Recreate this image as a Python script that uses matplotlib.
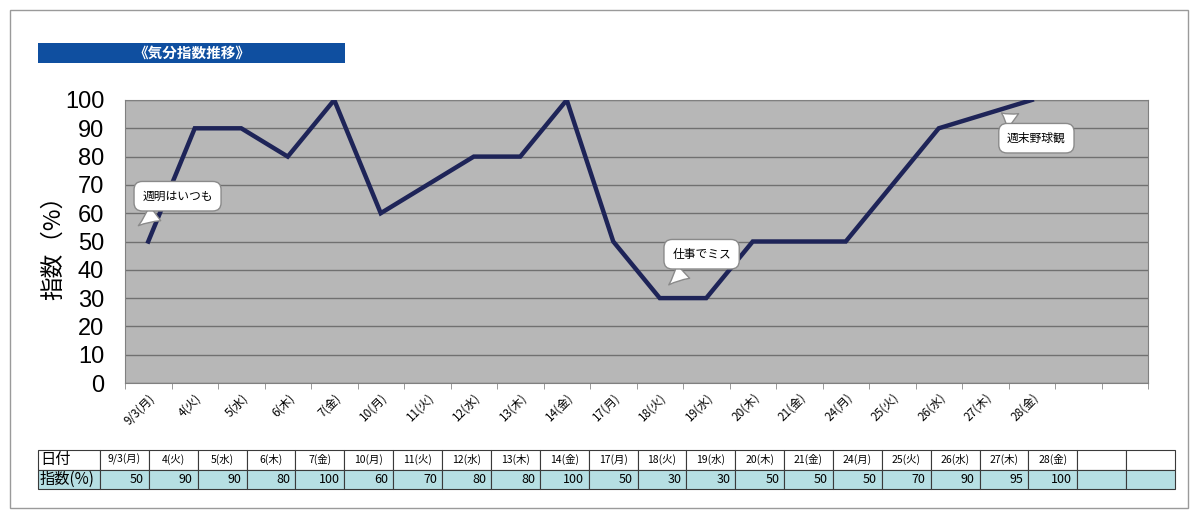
import matplotlib.pyplot as plt
from matplotlib.patches import Rectangle

plt.rcParams['font.family'] = ['Noto Sans CJK JP', 'DejaVu Sans']

# 日付と気分指数
dates = ['9/3(月)', '4(火)', '5(水)', '6(木)', '7(金)', '10(月)', '11(火)', '12(水)', '13(木)', '14(金)',
         '17(月)', '18(火)', '19(水)', '20(木)', '21(金)', '24(月)', '25(火)', '26(水)', '27(木)', '28(金)']
values = [50, 90, 90, 80, 100, 60, 70, 80, 80, 100,
          50, 30, 30, 50, 50, 50, 70, 90, 95, 100]
n_slots = 22  # 表の空欄2列分も含める

notes = [('週明はいつも', 0.63, 66, -0.26, 55),
         ('仕事でミス', 11.9, 45.5, 11.15, 34),
         ('週末野球観', 19.1, 86.5, 18.3, 96)]

W, H = 1198, 517
fig = plt.figure(figsize=(W / 100, H / 100), dpi=100)

def px(x0, y0, x1, y1):
    return [x0 / W, 1 - y1 / H, (x1 - x0) / W, (y1 - y0) / H]

# 外枠
fig.patches.append(Rectangle((10 / W, 1 - 508 / H), 1178 / W, 498 / H, transform=fig.transFigure,
                             fill=False, ec='#9a9a9a', lw=1))

# タイトル帯
tb = fig.add_axes(px(38, 43, 345, 63))
tb.set_facecolor('#0f4fa0')
tb.set_xticks([]); tb.set_yticks([])
for s in tb.spines.values():
    s.set_visible(False)
tb.text(0.5, 0.5, '《気分指数推移》', color='white', fontsize=10.5, fontweight='bold',
        ha='center', va='center', transform=tb.transAxes)

# グラフ本体
ax = fig.add_axes(px(125, 100, 1148, 383))
ax.set_facecolor('#b7b7b7')
x = list(range(len(values)))
ax.plot(x, values, color='#1e2458', lw=3.2, solid_joinstyle='miter', zorder=3)
ax.set_xlim(-0.5, n_slots - 0.5)
ax.set_ylim(0, 100)
ax.set_yticks(range(0, 101, 10))
ax.yaxis.grid(True, color='#707070', lw=1)
ax.set_axisbelow(True)
ax.tick_params(axis='y', length=0, labelsize=16, pad=15)
for lab in ax.get_yticklabels():
    lab.set_family(['Liberation Sans', 'DejaVu Sans'])
    lab.set_fontsize(17)
ax.set_xticks(x)
ax.set_xticklabels(dates, rotation=45, ha='right', rotation_mode='anchor', fontsize=8.5)
ax.set_xticks([i - 0.5 for i in range(n_slots + 1)], minor=True)
ax.tick_params(axis='x', which='major', length=0, pad=6)
ax.tick_params(axis='x', which='minor', length=4, color='#888888')
for s in ax.spines.values():
    s.set_color('#808080')
ax.set_ylabel('指数（%）', fontsize=17, labelpad=0)

for txt, tx, ty, ax_, ay_ in notes:
    ax.annotate(txt, xy=(ax_, ay_), xytext=(tx, ty), fontsize=8.5, ha='center', va='center', zorder=5,
                bbox=dict(boxstyle='round,pad=0.7', fc='white', ec='#8a8a8a', lw=1),
                arrowprops=dict(arrowstyle='wedge,tail_width=1.6,shrink_factor=0.4', fc='white',
                                ec='#8a8a8a', lw=1))

# 下部の表
tab_ax = fig.add_axes(px(38, 450, 1175, 489))
tab_ax.axis('off')
row1 = ['日付'] + dates + ['', '']
row2 = ['指数(%)'] + [str(v) for v in values] + ['', '']
colw = [62] + [1075 / n_slots] * n_slots
tot = sum(colw)
table = tab_ax.table(cellText=[row1, row2], colWidths=[c / tot for c in colw],
                     bbox=[0, 0, 1, 1], cellLoc='center')
table.auto_set_font_size(False)
for (r, c), cell in table.get_celld().items():
    cell.set_edgecolor('#3a3a3a')
    cell.set_linewidth(0.8)
    t = cell.get_text()
    if c == 0:
        cell.set_text_props(fontsize=11, ha='left')
        cell.PAD = 0.03
    elif r == 0:
        t.set_fontsize(7.5)
    else:
        t.set_fontsize(9)
        t.set_ha('right')
        cell.PAD = 0.1
    if r == 1:
        cell.set_facecolor('#b6dfe3')
    else:
        cell.set_facecolor('white')

fig.savefig('out.png', dpi=100)
